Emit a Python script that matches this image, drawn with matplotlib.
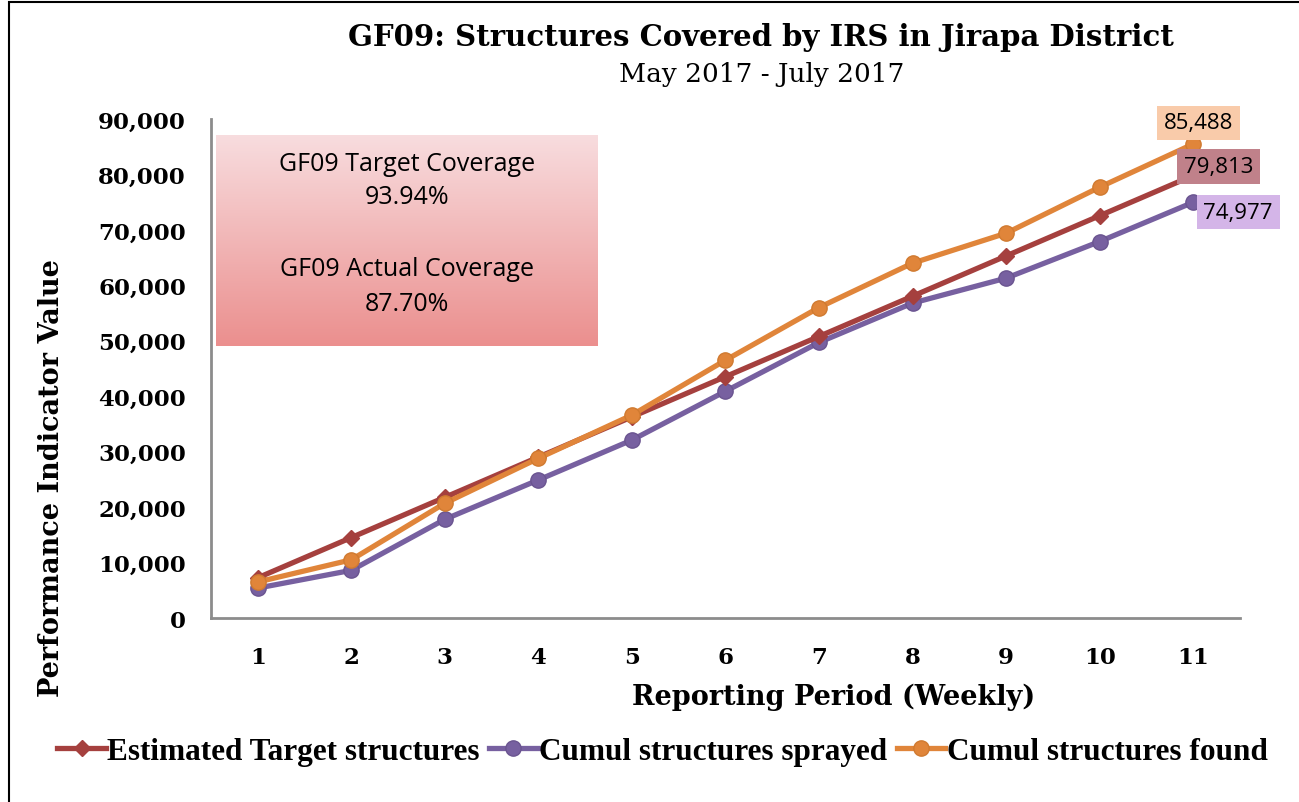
import numpy as np
from matplotlib import pyplot as plt
from matplotlib.patches import Rectangle

weeks = [1, 2, 3, 4, 5, 6, 7, 8, 9, 10, 11]
target = [7256, 14511, 21767, 29023, 36279, 43534, 50790, 58046, 65302, 72557, 79813]
sprayed = [5400, 8600, 17800, 24900, 32100, 40900, 49700, 56800, 61300, 67900, 74977]
found = [6500, 10500, 20700, 28800, 36600, 46500, 56000, 64000, 69400, 77700, 85488]
yticks = [0, 10000, 20000, 30000, 40000, 50000, 60000, 70000, 80000, 90000]

RED = '#a5403e'
PURPLE = '#7760a0'
ORANGE = '#e0853a'
SERIF = 'DejaVu Serif'
SANS = 'Open Sans'

fig = plt.figure(figsize=(12.99, 8.03), dpi=100)
ax = fig.add_axes([0.1624, 0.2291, 0.7922, 0.6215])

ax.plot(weeks, target, color=RED, lw=3.8, marker='D', ms=8,
        mec=RED, mfc=RED, label='Estimated Target structures', zorder=3)
ax.plot(weeks, sprayed, color=PURPLE, lw=3.8, marker='o', ms=11,
        mec='#6a5490', mfc=PURPLE, label='Cumul structures sprayed', zorder=2)
ax.plot(weeks, found, color=ORANGE, lw=3.8, marker='o', ms=11,
        mec='#d07a30', mfc=ORANGE, label='Cumul structures found', zorder=4)

ax.set_xlim(0.5, 11.5)
ax.set_ylim(0, 90000)
ax.set_xticks(weeks)
ax.set_yticks(yticks)
ax.set_yticklabels(['{:,}'.format(v) for v in yticks])
ax.tick_params(length=0, labelsize=16.5, pad=18)
ax.tick_params(axis='x', pad=20)
for lab in ax.get_xticklabels() + ax.get_yticklabels():
    lab.set_fontfamily(SERIF)
    lab.set_fontweight('bold')
for s in ('top', 'right'):
    ax.spines[s].set_visible(False)
for s in ('left', 'bottom'):
    ax.spines[s].set_color('#8c8c8c')
    ax.spines[s].set_linewidth(2)

fig.text(0.642, 0.132, 'Reporting Period (Weekly)', ha='center', va='center',
         fontfamily=SERIF, fontweight='bold', fontsize=19.5)
fig.text(0.040, 0.405, 'Performance Indicator Value', ha='center', va='center',
         rotation=90, fontfamily=SERIF, fontweight='bold', fontsize=19.5)

# end-of-line value labels
labels = [(found[-1], (5, 21), '#f9cbaa'),
          (target[-1], (25, 9), '#c0818a'),
          (sprayed[-1], (45, -10), '#d4b5e8')]
for val, off, col in labels:
    ax.annotate('{:,}'.format(val), (weeks[-1], val), xytext=off,
                textcoords='offset pixels', ha='center', va='center',
                fontfamily=SANS, fontsize=16, zorder=6,
                bbox=dict(boxstyle='square,pad=0.3', fc=col, ec='none'))

fig.text(0.586, 0.953, 'GF09: Structures Covered by IRS in Jirapa District',
         ha='center', va='center', fontfamily=SERIF, fontweight='bold', fontsize=21)
fig.text(0.586, 0.907, 'May 2017 - July 2017', ha='center', va='center',
         fontfamily=SERIF, fontsize=19)

# gradient coverage box
bx = fig.add_axes([0.1663, 0.5679, 0.294, 0.2628])
grad = np.linspace(0, 1, 256).reshape(-1, 1)
top = np.array([248, 221, 223]) / 255.
bot = np.array([235, 143, 142]) / 255.
img = top + grad[..., None] * (bot - top)
bx.imshow(img, aspect='auto', extent=[0, 1, 0, 1], origin='upper')
bx.set_xlim(0, 1)
bx.set_ylim(0, 1)
bx.axis('off')
for txt, yy in (('GF09 Target Coverage', 0.863), ('93.94%', 0.706),
                ('GF09 Actual Coverage', 0.365), ('87.70%', 0.199)):
    bx.text(0.5, yy, txt, ha='center', va='center', fontfamily=SANS, fontsize=18)

leg = fig.legend(loc='center', bbox_to_anchor=(0.510, 0.0635), ncol=3, frameon=False,
                 handlelength=1.55, handletextpad=0.05, columnspacing=0.3,
                 prop=dict(family='Liberation Serif', weight='bold', size=22.5))

fig.add_artist(Rectangle((9 / 1299., -0.1), 1.2, 1 - 3 / 803. + 0.1,
                         transform=fig.transFigure, fill=False, ec='black', lw=1.5))

fig.savefig('out.png', dpi=100)
